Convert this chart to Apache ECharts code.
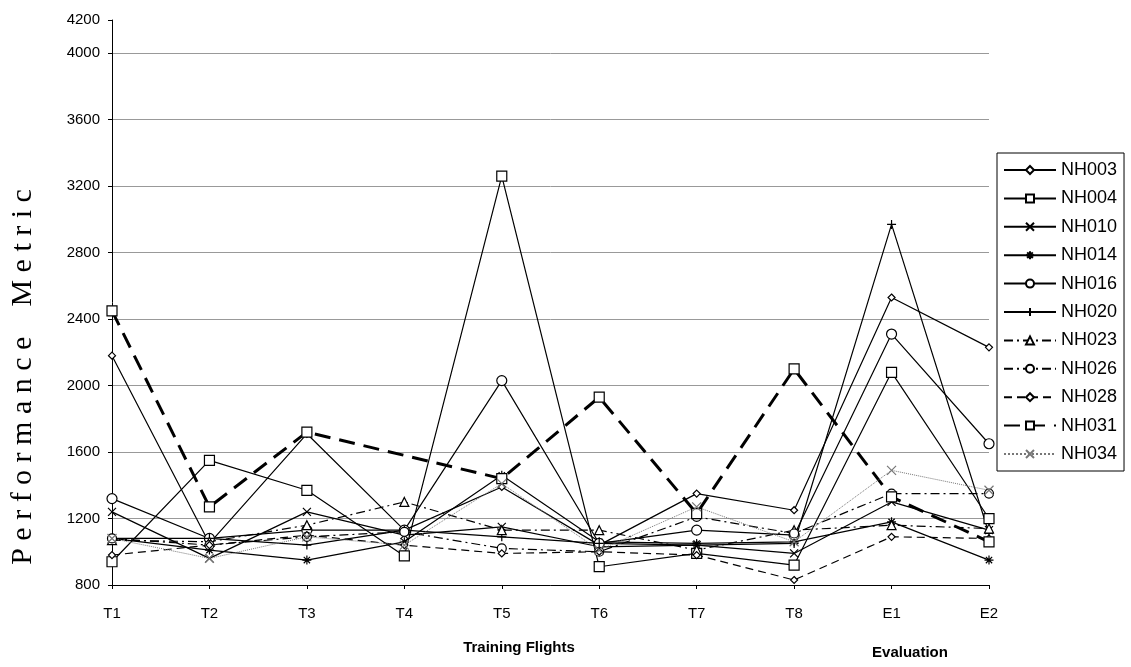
<!DOCTYPE html>
<html>
<head>
<meta charset="utf-8">
<script src="https://cdn.jsdelivr.net/npm/echarts@6/dist/echarts.min.js"></script>
<style>
html,body{margin:0;padding:0;background:#fff;}
#chart{width:1131px;height:667px;}
</style>
</head>
<body>
<div id="chart"></div>
<script>
var categories = ['T1','T2','T3','T4','T5','T6','T7','T8','E1','E2'];
var seriesNames = ['NH003','NH004','NH010','NH014','NH016','NH020','NH023','NH026','NH028','NH031','NH034'];
var nh003 = [2180, 1050, 1710, 1130, 1390, 1040, 1350, 1250, 2530, 2230];
var nh004 = [940, 1550, 1370, 975, 3260, 910, 990, 920, 2080, 1200];
var nh010 = [1240, 960, 1240, 1100, 1150, 1030, 1040, 990, 1300, 1130];
var nh014 = [1080, 1010, 950, 1060, 1460, 1060, 1050, 1060, 1180, 950];
var nh016 = [1320, 1080, 1130, 1130, 2030, 1050, 1130, 1100, 2310, 1650];
var nh020 = [1080, 1080, 1040, 1130, 1090, 1050, 1040, 1050, 2970, 1110];
var nh023 = [1070, 1060, 1160, 1300, 1130, 1130, 1010, 1130, 1160, 1140];
var nh026 = [1080, 1040, 1090, 1120, 1020, 1000, 1210, 1110, 1350, 1350];
var nh028 = [980, 1040, 1100, 1040, 990, 1000, 980, 830, 1090, 1080];
var nh031 = [2450, 1270, 1720, null, 1440, 1930, 1230, 2100, 1330, 1060];
var nh034 = [1080, 960, 1090, 1040, 1410, 1010, 1270, 1060, 1490, 1370];
var yAxisTitle = 'P e r f o r m a n c e    M e t r i c';
var xTitle1 = 'Training Flights';
var xTitle2 = 'Evaluation';

var SYM_X = 'path://M0,0L10,10M10,0L0,10';
var SYM_PLUS = 'path://M5,0L5,10M0,5L10,5';
var SYM_STAR = 'path://M5,0L5,10M0,5L10,5M1.5,1.5L8.5,8.5M8.5,1.5L1.5,8.5';

function mk(name, data, symbol, size, lineType, width, color) {
  return {
    name: name, type: 'line', data: data,
    symbol: symbol, symbolSize: size, symbolKeepAspect: true,
    connectNulls: true,
    lineStyle: { color: color || '#000', width: width, type: lineType },
    itemStyle: { color: '#fff', borderColor: color || '#000', borderWidth: 1.2 },
    emphasis: { disabled: true },
    animation: false
  };
}

var series = [
  mk(seriesNames[0], nh003, 'diamond', 7, 'solid', 1.2),
  mk(seriesNames[1], nh004, 'rect', 10, 'solid', 1.2),
  mk(seriesNames[2], nh010, SYM_X, 8, 'solid', 1.2),
  mk(seriesNames[3], nh014, SYM_STAR, 9, 'solid', 1.2),
  mk(seriesNames[4], nh016, 'circle', 10, 'solid', 1.2),
  mk(seriesNames[5], nh020, SYM_PLUS, 9, 'solid', 1.2),
  mk(seriesNames[6], nh023, 'triangle', 9, [9, 4, 2, 4], 1.2),
  mk(seriesNames[7], nh026, 'circle', 9, [9, 4, 2, 4], 1.2),
  mk(seriesNames[8], nh028, 'diamond', 7, [8, 5], 1.2),
  mk(seriesNames[9], nh031, 'rect', 10, [16, 9], 3),
  mk(seriesNames[10], nh034, SYM_X, 9, 'dotted', 1, '#777')
];

var gridColors = ['#999','#999','#999','#999','#999','#999','#999','#999','#999','rgba(0,0,0,0)'];

var chart = echarts.init(document.getElementById('chart'));
chart.setOption({
  backgroundColor: '#fff',
  animation: false,
  grid: { left: 112, right: 142, top: 20, bottom: 82 },
  xAxis: {
    type: 'category', data: categories, boundaryGap: false,
    axisLine: { lineStyle: { color: '#000', width: 1 } },
    axisTick: { show: true, length: 4, lineStyle: { color: '#000' } },
    axisLabel: { color: '#000', fontSize: 15, fontFamily: 'Liberation Sans, Arial, sans-serif', margin: 21 },
    splitLine: { show: false }
  },
  yAxis: {
    type: 'value', min: 800, max: 4200, interval: 400,
    axisLine: { show: true, lineStyle: { color: '#000', width: 1 } },
    axisTick: { show: true, length: 4, lineStyle: { color: '#000' } },
    axisLabel: { color: '#000', fontSize: 15, fontFamily: 'Liberation Sans, Arial, sans-serif', margin: 12,
      formatter: function (v) { return String(v); } },
    splitLine: { show: true, lineStyle: { color: gridColors, width: 1 } }
  },
  legend: {
    orient: 'vertical', left: 997, top: 153,
    itemWidth: 52, itemHeight: 10, itemGap: 10.4,
    padding: [8, 7, 8, 6],
    borderColor: '#000', borderWidth: 1,
    textStyle: { color: '#000', fontSize: 18, fontFamily: 'Liberation Sans, Arial, sans-serif' },
    data: seriesNames
  },
  graphic: [
    { type: 'text', x: 23, y: 377, rotation: Math.PI / 2,
      style: { text: yAxisTitle, font: 'normal 30px "Liberation Serif", serif', fill: '#000', textAlign: 'center', textVerticalAlign: 'middle' } },
    { type: 'text', x: 519, y: 648,
      style: { text: xTitle1, font: 'bold 15px "Liberation Sans", Arial, sans-serif', fill: '#000', textAlign: 'center', textVerticalAlign: 'middle' } },
    { type: 'text', x: 910, y: 653,
      style: { text: xTitle2, font: 'bold 15px "Liberation Sans", Arial, sans-serif', fill: '#000', textAlign: 'center', textVerticalAlign: 'middle' } }
  ],
  series: series
});
</script>
</body>
</html>
